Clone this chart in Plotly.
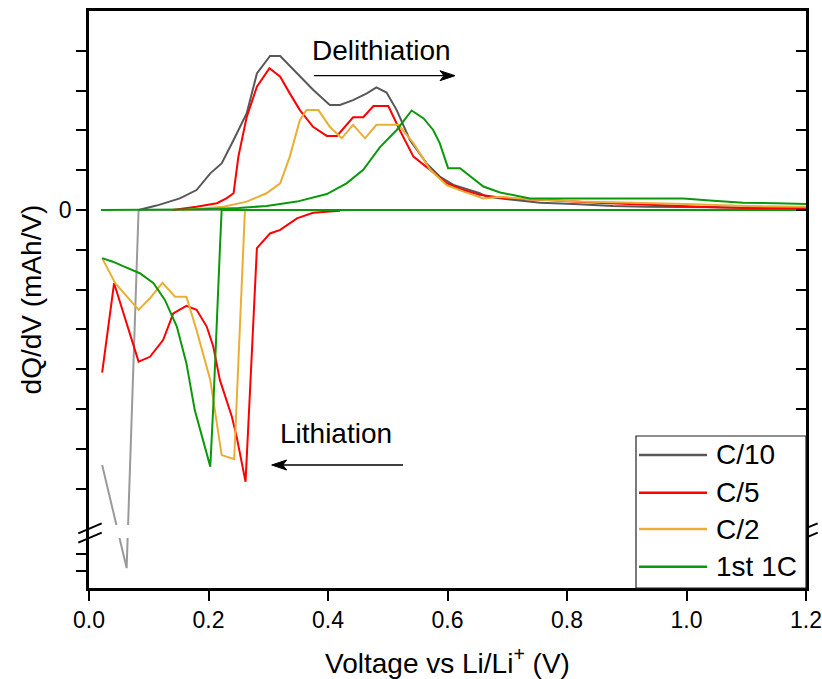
import plotly.graph_objects as go

# ---- dQ/dV curves (voltage in V, dQ/dV in plot units; 0 = baseline) ----
# C/10
c10_delith_v = [0.083, 0.088, 0.113, 0.152, 0.180, 0.203, 0.222, 0.242, 0.264, 0.281, 0.303, 0.320,
                0.342, 0.375, 0.403, 0.420, 0.442, 0.465, 0.481, 0.498, 0.515, 0.537, 0.565, 0.587,
                0.610, 0.632, 0.654, 0.666, 0.710, 0.755, 0.811, 0.877, 0.933, 1.045, 1.129, 1.200]
c10_delith_q = [0.00, 0.02, 0.11, 0.29, 0.50, 0.92, 1.17, 1.76, 2.43, 3.43, 3.87, 3.87,
                3.52, 3.02, 2.64, 2.64, 2.76, 2.93, 3.08, 2.95, 2.51, 1.76, 1.17, 0.84,
                0.63, 0.52, 0.42, 0.33, 0.25, 0.18, 0.15, 0.10, 0.08, 0.07, 0.04, 0.04]
c10_lith_v = [0.022, 0.063, 0.083, 0.593]
c10_lith_q = [-6.41, -9.00, 0.00, 0.00]

# C/5
c5_delith_v = [0.140, 0.180, 0.214, 0.230, 0.242, 0.250, 0.264, 0.281, 0.302, 0.320, 0.336, 0.353,
               0.375, 0.398, 0.415, 0.442, 0.459, 0.476, 0.501, 0.520, 0.543, 0.571, 0.599, 0.627,
               0.654, 0.699, 0.766, 0.850, 0.933, 1.045, 1.134, 1.200]
c5_delith_q = [0.00, 0.08, 0.17, 0.29, 0.42, 1.34, 2.34, 3.10, 3.56, 3.35, 2.93, 2.51,
               2.09, 1.86, 1.86, 2.33, 2.33, 2.61, 2.61, 2.01, 1.34, 1.01, 0.67, 0.50,
               0.38, 0.29, 0.25, 0.18, 0.13, 0.07, 0.04, 0.04]
c5_lith_v = [0.022, 0.042, 0.083, 0.102, 0.124, 0.141, 0.163, 0.180, 0.197, 0.208, 0.219, 0.239,
             0.247, 0.262, 0.269, 0.281, 0.303, 0.320, 0.348, 0.375, 0.420]
c5_lith_q = [-4.09, -1.84, -3.81, -3.69, -3.27, -2.60, -2.41, -2.51, -2.93, -3.43, -4.27, -5.19,
             -5.69, -6.83, -4.69, -0.96, -0.59, -0.50, -0.21, -0.07, -0.02]

# C/2
c2_delith_v = [0.160, 0.225, 0.264, 0.297, 0.320, 0.336, 0.353, 0.364, 0.384, 0.403, 0.423, 0.442,
               0.462, 0.481, 0.518, 0.543, 0.571, 0.599, 0.627, 0.660, 0.688, 0.738, 0.822, 0.933,
               1.000, 1.101, 1.200]
c2_delith_q = [0.00, 0.08, 0.21, 0.42, 0.67, 1.34, 2.26, 2.51, 2.51, 2.09, 1.80, 2.14,
               1.80, 2.14, 2.14, 1.68, 1.01, 0.62, 0.46, 0.29, 0.33, 0.27, 0.21, 0.18,
               0.15, 0.10, 0.08]
c2_lith_v = [0.022, 0.044, 0.083, 0.102, 0.123, 0.144, 0.163, 0.180, 0.203, 0.222, 0.243, 0.261, 0.310]
c2_lith_q = [-1.21, -1.84, -2.51, -2.22, -1.83, -2.18, -2.18, -3.02, -4.27, -6.16, -6.26, 0.00, 0.00]

# 1st 1C
c1_delith_v = [0.020, 0.100, 0.160, 0.219, 0.250, 0.297, 0.348, 0.398, 0.431, 0.459, 0.487, 0.515,
               0.540, 0.560, 0.576, 0.587, 0.601, 0.621, 0.638, 0.660, 0.688, 0.721, 0.738, 0.877,
               0.995, 1.045, 1.095, 1.151, 1.200]
c1_delith_q = [0.00, 0.00, 0.01, 0.03, 0.05, 0.10, 0.21, 0.40, 0.67, 1.01, 1.58, 2.01,
               2.50, 2.30, 2.01, 1.68, 1.05, 1.05, 0.84, 0.59, 0.44, 0.33, 0.29, 0.29,
               0.29, 0.23, 0.18, 0.17, 0.15]
c1_lith_v = [0.022, 0.040, 0.057, 0.085, 0.108, 0.127, 0.147, 0.163, 0.177, 0.191, 0.203, 0.208,
             0.214, 0.219, 0.222, 1.200]
c1_lith_q = [-1.21, -1.30, -1.41, -1.59, -1.84, -2.26, -2.93, -3.85, -5.03, -5.78, -6.45, -4.94,
             -2.60, -1.01, 0.00, 0.00]

series_names = ["C/10", "C/5", "C/2", "1st 1C"]
series_colors = ["#585858", "#FF0000", "#EAAE35", "#0B980B"]
lith_colors = ["#9A9A9A", "#FF0000", "#EAAE35", "#0B980B"]

x_ticks = [0.0, 0.2, 0.4, 0.6, 0.8, 1.0, 1.2]
x_ticklabels = ["0.0", "0.2", "0.4", "0.6", "0.8", "1.0", "1.2"]
y_label_ticks = [0]
y_label_text = ["0"]
y_minor_ticks = [4, 3, 2, 1, -1, -2, -3, -4, -5, -6, -7, -8.64, -9.07]
Y_RANGE = [-9.5, 5.0]
X_RANGE = [0.0, 1.2]

FONT = "Liberation Sans, Arial, sans-serif"

# plot-area geometry in pixels
L, R, T, B = 89, 806, 11, 588

curves = [
    (c10_delith_v, c10_delith_q, c10_lith_v, c10_lith_q),
    (c5_delith_v, c5_delith_q, c5_lith_v, c5_lith_q),
    (c2_delith_v, c2_delith_q, c2_lith_v, c2_lith_q),
    (c1_delith_v, c1_delith_q, c1_lith_v, c1_lith_q),
]

fig = go.Figure()
for i, (dv, dq, lv, lq) in enumerate(curves):
    yax = "y2" if i == 3 else "y"   # 1C drawn on the overlay so it sits on top
    fig.add_trace(go.Scatter(x=lv, y=lq, mode="lines", yaxis=yax, showlegend=False,
                             line=dict(color=lith_colors[i], width=2), name=series_names[i]))
    fig.add_trace(go.Scatter(x=dv, y=dq, mode="lines", yaxis=yax, showlegend=False,
                             line=dict(color=series_colors[i], width=2), name=series_names[i]))

axis_common = dict(showgrid=False, zeroline=False, showline=True, linecolor="black",
                   linewidth=2.5, tickcolor="black", tickwidth=2, ticklen=10, automargin=False)


def minor_ticks(direction):
    return dict(tickmode="array", tickvals=y_minor_ticks, ticks=direction, ticklen=10,
                tickwidth=2, tickcolor="black", showgrid=False)


fig.update_layout(
    width=822, height=679,
    margin=dict(l=L, r=822 - R, t=T, b=679 - B, autoexpand=False),
    paper_bgcolor="white", plot_bgcolor="white",
    font=dict(family=FONT, color="black"),
    showlegend=False,
    xaxis=dict(range=X_RANGE, tickvals=x_ticks, ticktext=x_ticklabels, ticks="outside",
               mirror=True, tickfont=dict(size=23),
               title=dict(text="Voltage vs Li/Li<sup>+</sup> (V)", font=dict(size=28), standoff=23),
               **axis_common),
    yaxis=dict(range=Y_RANGE, tickvals=y_label_ticks, ticktext=y_label_text, ticks="outside",
               tickfont=dict(size=23), minor=minor_ticks("outside"),
               title=dict(text="dQ/dV (mAh/V)", font=dict(size=28), standoff=10),
               **axis_common),
    yaxis2=dict(range=Y_RANGE, overlaying="y", side="right", tickvals=y_label_ticks,
                ticks="inside", showticklabels=False, minor=minor_ticks("inside"),
                **axis_common),
)


def ypx(py):
    """pixel row -> y data value"""
    return Y_RANGE[1] - (py - T) * (Y_RANGE[1] - Y_RANGE[0]) / (B - T)


def xpx(px):
    """pixel column -> x data value"""
    return X_RANGE[0] + (px - L) * (X_RANGE[1] - X_RANGE[0]) / (R - L)


def xpaper(px):
    return (px - L) / (R - L)


shapes = []
# ---- axis break ----
shapes.append(dict(type="rect", xref="x", yref="y", x0=0.006, x1=0.15, y0=ypx(538), y1=ypx(525),
                   fillcolor="white", line=dict(width=0), layer="above"))
for dy in (0, 9.4):
    shapes.append(dict(type="line", xref="paper", yref="y",
                       x0=xpaper(78.3), y0=ypx(533.3 + dy), x1=xpaper(101.7), y1=ypx(523.3 + dy),
                       line=dict(color="black", width=2), layer="above"))
    shapes.append(dict(type="line", xref="paper", yref="y",
                       x0=xpaper(806), y0=ypx(528.2 + dy), x1=xpaper(817.7), y1=ypx(523.3 + dy),
                       line=dict(color="black", width=2), layer="above"))

# ---- legend box ----
shapes.append(dict(type="rect", xref="paper", yref="paper", x0=xpaper(636), x1=1.0,
                   y0=0.0, y1=(B - 436) / (B - T),
                   fillcolor="white", line=dict(color="#222222", width=1.2), layer="above"))
row_px = [455, 492.7, 529, 566.7]
annotations = []
for name, col, py in zip(series_names, series_colors, row_px):
    yp = (B - py) / (B - T)
    shapes.append(dict(type="line", xref="paper", yref="paper", x0=xpaper(639), x1=xpaper(707),
                       y0=yp, y1=yp, line=dict(color=col, width=2.5), layer="above"))
    annotations.append(dict(xref="paper", yref="paper", x=xpaper(714), y=yp, text=name,
                            showarrow=False, xanchor="left", yanchor="middle",
                            font=dict(size=28, family=FONT, color="black")))


# ---- process labels and arrows ----
def arrow(x_tail_px, x_head_px, y_px):
    d = 1 if x_head_px > x_tail_px else -1
    back = x_head_px - d * 15
    notch = x_head_px - d * 11
    out = [dict(type="line", xref="x", yref="y", x0=xpx(x_tail_px), x1=xpx(notch),
                y0=ypx(y_px), y1=ypx(y_px), line=dict(color="black", width=1.3), layer="above")]
    path = (f"M {xpx(x_head_px)},{ypx(y_px)} L {xpx(back)},{ypx(y_px - 5)} "
            f"L {xpx(notch)},{ypx(y_px)} L {xpx(back)},{ypx(y_px + 5)} Z")
    out.append(dict(type="path", xref="x", yref="y", path=path, fillcolor="black",
                    line=dict(color="black", width=1), layer="above"))
    return out


shapes += arrow(314, 455, 75.7)
shapes += arrow(403, 271.7, 465)

annotations.append(dict(x=xpx(381.5), y=ypx(50), text="Delithiation", showarrow=False,
                        font=dict(size=28, family=FONT, color="black")))
annotations.append(dict(x=xpx(336), y=ypx(433), text="Lithiation", showarrow=False,
                        font=dict(size=28, family=FONT, color="black")))

fig.update_layout(shapes=shapes, annotations=annotations)
fig.write_html("out.html")
